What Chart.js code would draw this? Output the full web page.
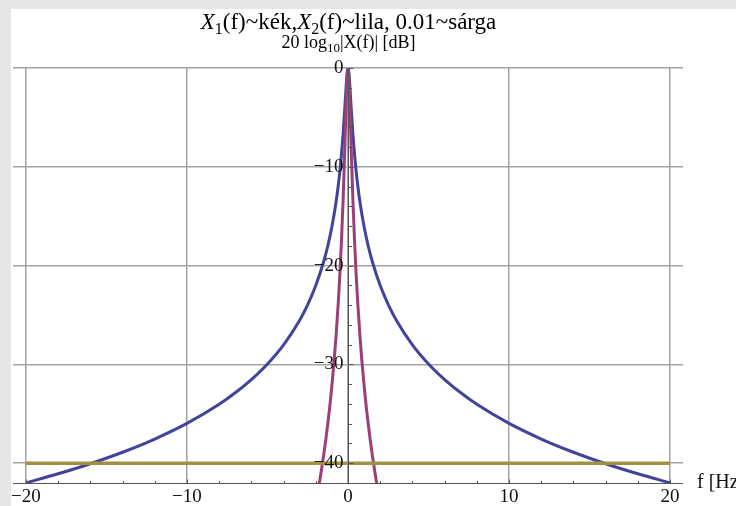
<!DOCTYPE html>
<html lang="hu">
<head>
    <meta charset="UTF-8">
    <title>X1(f), X2(f) – 20 log10|X(f)| [dB]</title>
    <script src="https://cdn.jsdelivr.net/npm/chart.js"></script>
    <style>
        body { margin: 0; background: #fff; }
        canvas { display: block; }
    </style>
</head>
<body>
    <canvas id="myChart" width="736" height="506"></canvas>

    <script>
        // frekvenciák [Hz] és a szintek [dB]
        const freqBlue = [-20, -18, -16, -14, -12, -10, -8, -7, -6, -5, -4, -3, -2.5, -2, -1.5, -1.25, -1, -0.75, -0.6, -0.5, -0.4, -0.3, -0.2, -0.15, -0.1, -0.05, 0,
                          0.05, 0.1, 0.15, 0.2, 0.3, 0.4, 0.5, 0.6, 0.75, 1, 1.25, 1.5, 2, 2.5, 3, 4, 5, 6, 7, 8, 10, 12, 14, 16, 18, 20];
        const blueDb = [-41.98, -41.07, -40.05, -38.89, -37.55, -35.97, -34.03, -32.87, -31.53, -29.95, -28.01, -25.52, -23.94, -22.01, -19.53, -17.97, -16.07, -13.66, -11.82, -10.36, -8.64, -6.58, -4.11, -2.76, -1.45, -0.41, 0,
                        -0.41, -1.45, -2.76, -4.11, -6.58, -8.64, -10.36, -11.82, -13.66, -16.07, -17.97, -19.53, -22.01, -23.94, -25.52, -28.01, -29.95, -31.53, -32.87, -34.03, -35.97, -37.55, -38.89, -40.05, -41.07, -41.98];

        const freqPurple = [-1.8, -1.75, -1.5, -1.25, -1, -0.75, -0.6, -0.5, -0.4, -0.3, -0.2, -0.15, -0.1, -0.05, 0,
                            0.05, 0.1, 0.15, 0.2, 0.3, 0.4, 0.5, 0.6, 0.75, 1, 1.25, 1.5, 1.75, 1.8];
        const purpleDb = [-42.21, -41.72, -39.07, -35.94, -32.14, -27.31, -23.64, -20.72, -17.29, -13.17, -8.23, -5.52, -2.89, -0.82, 0,
                          -0.82, -2.89, -5.52, -8.23, -13.17, -17.29, -20.72, -23.64, -27.31, -32.14, -35.94, -39.07, -41.72, -42.21];

        const freqYellow = [-20, 20];
        const yellowDb = [-40, -40];

        const xTicks = [-20, -10, 0, 10, 20];
        const yTicks = [0, -10, -20, -30, -40];

        const toPoints = (xs, ys) => xs.map((x, i) => ({ x: x, y: ys[i] }));
        const fmt = v => (v < 0 ? '\u2212' + Math.abs(v) : String(v));

        const serif = '"Liberation Serif", "DejaVu Serif", serif';

        // szöveg darabokban (dőlt X, alsó index)
        const drawRuns = (ctx, runs, cx, baseline, size) => {
            const fontOf = r => (r.italic ? 'italic ' : '') + (r.sub ? Math.round(size * 0.7) : size) + 'px ' + serif;
            let total = 0;
            runs.forEach(r => { ctx.font = fontOf(r); r.w = ctx.measureText(r.t).width; total += r.w; });
            let x = cx - total / 2;
            ctx.textAlign = 'left';
            ctx.textBaseline = 'alphabetic';
            runs.forEach(r => {
                ctx.font = fontOf(r);
                ctx.fillText(r.t, x, baseline + (r.sub ? size * 0.22 : 0));
                x += r.w;
            });
        };

        const bgPlugin = {
            id: 'bgPlugin',
            beforeDraw: (chart) => {
                const { ctx, width, height } = chart;
                ctx.save();
                ctx.fillStyle = '#ffffff';
                ctx.fillRect(0, 0, width, height);
                ctx.fillStyle = '#e6e6e6';
                ctx.fillRect(0, 0, width, 9);
                ctx.fillRect(0, 0, 11, height);
                ctx.restore();
            }
        };

        const axesPlugin = {
            id: 'axesPlugin',
            afterDatasetsDraw: (chart) => {
                const { ctx, chartArea, scales: { x, y } } = chart;
                const x0 = Math.round(x.getPixelForValue(0)) + 0.5;
                const yb = Math.round(chartArea.bottom) + 0.5;

                ctx.save();
                ctx.strokeStyle = '#555555';
                ctx.lineWidth = 1;
                ctx.beginPath();
                ctx.moveTo(chartArea.left, yb);
                ctx.lineTo(chartArea.right, yb);
                ctx.moveTo(x0, chartArea.top);
                ctx.lineTo(x0, chartArea.bottom);

                // x tengely osztások (felfelé)
                for (let v = -20; v <= 20; v += 2) {
                    const px = Math.round(x.getPixelForValue(v)) + 0.5;
                    const len = v % 10 === 0 ? 4 : 2.5;
                    ctx.moveTo(px, yb);
                    ctx.lineTo(px, yb - len);
                }
                // y tengely osztások (jobbra)
                for (let v = 0; v >= -42; v -= 2) {
                    const py = Math.round(y.getPixelForValue(v)) + 0.5;
                    const len = v % 10 === 0 ? 5 : 3.5;
                    ctx.moveTo(x0, py);
                    ctx.lineTo(x0 + len, py);
                }
                ctx.stroke();

                ctx.fillStyle = '#111111';
                ctx.font = '19px ' + serif;
                ctx.textAlign = 'center';
                ctx.textBaseline = 'middle';
                xTicks.forEach(v => ctx.fillText(fmt(v), x.getPixelForValue(v), yb + 14));

                ctx.textAlign = 'right';
                yTicks.forEach(v => ctx.fillText(fmt(v), x0 - 5, y.getPixelForValue(v)));

                ctx.textAlign = 'left';
                ctx.font = '20px ' + serif;
                ctx.fillText('f [Hz]', chartArea.right + 14, yb - 1);

                ctx.fillStyle = '#000000';
                drawRuns(ctx, [
                    { t: 'X', italic: true }, { t: '1', sub: true }, { t: '(f)~kék,' },
                    { t: 'X', italic: true }, { t: '2', sub: true }, { t: '(f)~lila, 0.01~sárga' }
                ], x0, 29, 23);
                drawRuns(ctx, [
                    { t: '20 log' }, { t: '10', sub: true }, { t: '|X(f)| [dB]' }
                ], x0, 48, 18);
                ctx.restore();
            }
        };

        const data = {
            datasets: [
                {
                    label: 'X1(f) ~ kék',
                    data: toPoints(freqBlue, blueDb),
                    borderColor: '#43439c',
                    borderWidth: 3,
                    order: 3
                },
                {
                    label: 'X2(f) ~ lila',
                    data: toPoints(freqPurple, purpleDb),
                    borderColor: '#9c3f78',
                    borderWidth: 3,
                    order: 2
                },
                {
                    label: '0.01 ~ sárga',
                    data: toPoints(freqYellow, yellowDb),
                    borderColor: '#a09242',
                    borderWidth: 3.5,
                    order: 1
                }
            ]
        };

        const config = {
            type: 'line',
            data: data,
            options: {
                responsive: false,
                animation: false,
                devicePixelRatio: 1,
                layout: { padding: { left: 13, right: 53, top: 68, bottom: 23 } },
                elements: {
                    point: { radius: 0 },
                    line: { cubicInterpolationMode: 'monotone', fill: false }
                },
                plugins: {
                    legend: { display: false },
                    title: { display: false },
                    tooltip: { enabled: false }
                },
                scales: {
                    x: {
                        type: 'linear',
                        min: -20.8,
                        max: 20.8,
                        afterBuildTicks: (scale) => { scale.ticks = xTicks.map(v => ({ value: v })); },
                        ticks: { display: false },
                        border: { display: false },
                        grid: { color: '#a4a4a4', lineWidth: 1.5, drawTicks: false }
                    },
                    y: {
                        type: 'linear',
                        min: -42,
                        max: 0,
                        afterBuildTicks: (scale) => { scale.ticks = yTicks.map(v => ({ value: v })); },
                        ticks: { display: false },
                        border: { display: false },
                        grid: { color: '#a4a4a4', lineWidth: 1.5, drawTicks: false }
                    }
                }
            },
            plugins: [bgPlugin, axesPlugin]
        };

        const ctx = document.getElementById('myChart').getContext('2d');
        new Chart(ctx, config);
    </script>
</body>
</html>
